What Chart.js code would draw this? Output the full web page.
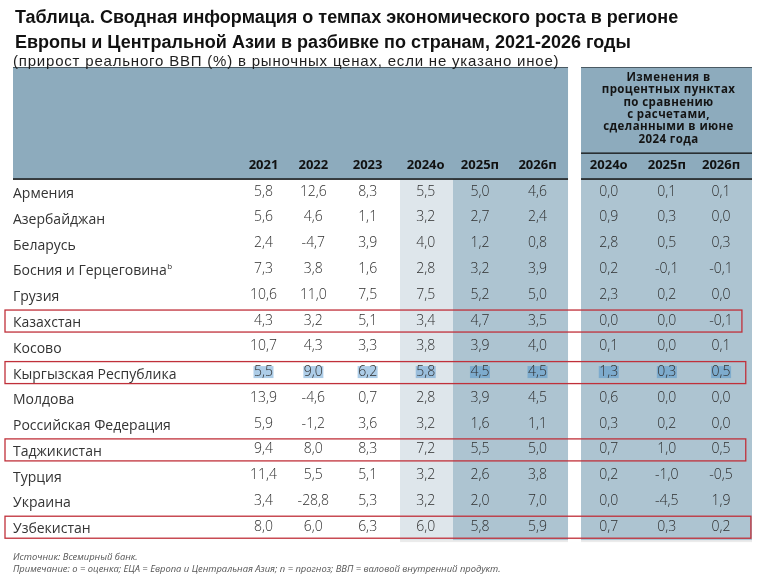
<!DOCTYPE html>
<html><head><meta charset="utf-8">
<script src="https://cdn.jsdelivr.net/npm/chart.js@4.4.1/dist/chart.umd.min.js"></script>
<style>
html,body{margin:0;padding:0;background:#fff;}
#wrap{position:relative;width:765px;height:581px;overflow:hidden;}
canvas{position:absolute;left:0;top:0;}
.t{position:absolute;white-space:nowrap;}
#title{left:15px;top:4.5px;font:bold 18px "Liberation Sans Narrow","Liberation Sans",sans-serif;line-height:25px;color:#111;}
#sub{left:13px;top:52px;font:15px "Liberation Sans",sans-serif;letter-spacing:0.8px;line-height:17px;color:#1e1e1e;}
#foot{left:13px;top:551px;font:italic 9.4px "Open Sans",sans-serif;line-height:12px;color:#555;}
</style></head>
<body><div id="wrap"><canvas id="c" width="765" height="581"></canvas>
<div class="t" id="title">Таблица. Сводная информация о темпах экономического роста в регионе<br>Европы и Центральной Азии в разбивке по странам, 2021-2026 годы</div>
<div class="t" id="sub">(прирост реального ВВП (%) в рыночных ценах, если не указано иное)</div>
<div class="t" id="foot">Источник: Всемирный банк.<br>Примечание: о = оценка; ЕЦА = Европа и Центральная Азия; п = прогноз; ВВП = валовой внутренний продукт.</div>
</div>
<script>
// ---- data ----
const countries = ['Армения','Азербайджан','Беларусь','Босния и Герцеговина','Грузия','Казахстан','Косово','Кыргызская Республика','Молдова','Российская Федерация','Таджикистан','Турция','Украина','Узбекистан'];
const footnoteMarks = {'Босния и Герцеговина':'b'};
const columnLabels = ['2021','2022','2023','2024о','2025п','2026п','2024о','2025п','2026п'];
const changeHeader = ['Изменения в','процентных пунктах','по сравнению','с расчетами,','сделанными в июне','2024 года'];
const v2021 = [5.8,5.6,2.4,7.3,10.6,4.3,10.7,5.5,13.9,5.9,9.4,11.4,3.4,8.0];
const v2022 = [12.6,4.6,-4.7,3.8,11.0,3.2,4.3,9.0,-4.6,-1.2,8.0,5.5,-28.8,6.0];
const v2023 = [8.3,1.1,3.9,1.6,7.5,5.1,3.3,6.2,0.7,3.6,8.3,5.1,5.3,6.3];
const v2024e = [5.5,3.2,4.0,2.8,7.5,3.4,3.8,5.8,2.8,3.2,7.2,3.2,3.2,6.0];
const v2025f = [5.0,2.7,1.2,3.2,5.2,4.7,3.9,4.5,3.9,1.6,5.5,2.6,2.0,5.8];
const v2026f = [4.6,2.4,0.8,3.9,5.0,3.5,4.0,4.5,4.5,1.1,5.0,3.8,7.0,5.9];
const d2024e = [0.0,0.9,2.8,0.2,2.3,0.0,0.1,1.3,0.6,0.3,0.7,0.2,0.0,0.7];
const d2025f = [0.1,0.3,0.5,-0.1,0.2,0.0,0.0,0.3,0.0,0.2,1.0,-1.0,-4.5,0.3];
const d2026f = [0.1,0.0,0.3,-0.1,0.0,-0.1,0.1,0.5,0.0,0.0,0.5,-0.5,1.9,0.2];
const columns = [v2021,v2022,v2023,v2024e,v2025f,v2026f,d2024e,d2025f,d2026f];
const boxedRows = ['Казахстан','Кыргызская Республика','Таджикистан','Узбекистан'];
const selectedRow = 'Кыргызская Республика';

// ---- layout (column units) ----
const colPos = [0,0.91,1.9,2.96,3.95,5,6.3,7.36,8.35];
const X_MIN = -4.571, X_MAX = 8.914;
const LEFT_GROUP_END = 5.557, RIGHT_GROUP_START = 5.794, LIGHT_COL = [2.491,3.458];
const HEADER_BG = '#8dabbd', DARK_BG = '#adc4d1', LIGHT_BG = '#dee6eb';
const LABEL_FONT = 'Open Sans', LABEL_SIZE = 14;

const fmt = v => v.toFixed(1).replace('.', ',');

const tablePlugin = {
  id: 'table',
  beforeDraw(chart) {
    const {ctx, chartArea: a, scales: {x}} = chart;
    const px = v => x.getPixelForValue(v);
    const hTop = 67, hBot = a.top - 2, bBot = a.bottom - 2;
    ctx.save();
    ctx.fillStyle = HEADER_BG;
    ctx.fillRect(px(X_MIN), hTop, px(LEFT_GROUP_END) - px(X_MIN), hBot - hTop);
    ctx.fillRect(px(RIGHT_GROUP_START), hTop, px(X_MAX) - px(RIGHT_GROUP_START), hBot - hTop);
    ctx.fillStyle = LIGHT_BG;
    ctx.fillRect(px(LIGHT_COL[0]), hBot, px(LIGHT_COL[1]) - px(LIGHT_COL[0]), bBot - hBot);
    ctx.fillStyle = DARK_BG;
    ctx.fillRect(px(LIGHT_COL[1]), hBot, px(LEFT_GROUP_END) - px(LIGHT_COL[1]), bBot - hBot);
    ctx.fillRect(px(RIGHT_GROUP_START), hBot, px(X_MAX) - px(RIGHT_GROUP_START), bBot - hBot);
    ctx.fillStyle = 'rgba(0,0,0,0.08)';
    ctx.fillRect(px(LIGHT_COL[0]), bBot, px(LEFT_GROUP_END) - px(LIGHT_COL[0]), 2);
    ctx.fillRect(px(RIGHT_GROUP_START), bBot, px(X_MAX) - px(RIGHT_GROUP_START), 2);
    ctx.fillStyle = '#4a5a63';
    ctx.fillRect(px(X_MIN), hTop, px(LEFT_GROUP_END) - px(X_MIN), 1);
    ctx.fillRect(px(RIGHT_GROUP_START), hTop, px(X_MAX) - px(RIGHT_GROUP_START), 1);
    ctx.fillStyle = '#111';
    ctx.fillRect(px(X_MIN), hBot - 1, px(LEFT_GROUP_END) - px(X_MIN), 1.5);
    ctx.fillRect(px(RIGHT_GROUP_START), hBot - 1, px(X_MAX) - px(RIGHT_GROUP_START), 1.5);
    ctx.fillRect(px(RIGHT_GROUP_START), 152.5, px(X_MAX) - px(RIGHT_GROUP_START), 1.3);
    ctx.font = 'bold 11.5px "Open Sans"';
    ctx.letterSpacing = '0.4px';
    ctx.textAlign = 'center';
    ctx.textBaseline = 'middle';
    ctx.fillStyle = '#141414';
    const cx = (px(RIGHT_GROUP_START) + px(X_MAX)) / 2 + 2;
    changeHeader.forEach((line, i) => ctx.fillText(line, cx, 77.5 + i * 12.4));
    ctx.restore();
  },
  afterDatasetsDraw(chart) {
    const {ctx, chartArea: a, scales: {x, y}} = chart;
    const px = v => x.getPixelForValue(v);
    ctx.save();
    ctx.font = '300 14px "Open Sans"';
    ctx.textAlign = 'center';
    ctx.textBaseline = 'middle';
    chart.data.datasets.forEach((ds, j) => {
      const meta = chart.getDatasetMeta(j);
      meta.data.forEach((pt, i) => {
        const txt = fmt(ds.data[i].v);
        const ty = pt.y - 2.5;
        if (ds.data[i].y === selectedRow) {
          const w = ctx.measureText(txt).width + 1;
          ctx.fillStyle = 'rgba(60,135,200,0.42)';
          ctx.fillRect(pt.x - w / 2, ty - 6, w, 12);
        }
        ctx.fillStyle = '#2e2e2e';
        ctx.fillText(txt, pt.x, ty);
      });
    });
    ctx.textAlign = 'left';
    Object.keys(footnoteMarks).forEach(name => {
      ctx.font = LABEL_SIZE + 'px "' + LABEL_FONT + '"';
      const w = ctx.measureText(name).width;
      const yy = y.getPixelForValue(countries.indexOf(name));
      ctx.font = '8px "Open Sans"';
      ctx.fillStyle = '#333';
      ctx.fillText(footnoteMarks[name], a.left + w + 0.5, yy - 5);
    });
    ctx.strokeStyle = '#c0303a';
    ctx.lineWidth = 1.3;
    const rights = {'Казахстан': 8.73, 'Кыргызская Республика': 8.8, 'Таджикистан': 8.8, 'Узбекистан': X_MAX - 0.02};
    boxedRows.forEach(name => {
      const yy = y.getPixelForValue(countries.indexOf(name)) - 2;
      const l = a.left - 8;
      const r = px(rights[name]);
      ctx.strokeRect(l, yy - 11, r - l, 22);
    });
    ctx.restore();
  }
};

const datasets = columns.map((col, j) => ({
  label: columnLabels[j],
  data: col.map((v, i) => ({x: colPos[j], y: countries[i], v})),
  pointRadius: 0,
  pointHoverRadius: 0
}));

new Chart(document.getElementById('c'), {
  type: 'scatter',
  data: {datasets},
  options: {
    responsive: false,
    animation: false,
    events: [],
    layout: {padding: {left: 13, right: 13, top: 157.3, bottom: 38.9}},
    plugins: {legend: {display: false}, tooltip: {enabled: false}},
    scales: {
      x: {
        type: 'linear', position: 'top', min: X_MIN, max: X_MAX,
        grid: {display: false, drawTicks: false}, border: {display: false},
        afterBuildTicks: s => { s.ticks = colPos.map(v => ({value: v})); },
        afterFit: s => { s.height = 24; },
        ticks: {autoSkip: false, maxRotation: 0, padding: 8, color: '#111',
          font: {family: 'Open Sans', weight: 'bold', size: 13},
          callback: (v, i) => columnLabels[i]}
      },
      y: {
        type: 'category', labels: countries, offset: true,
        grid: {display: false, drawTicks: false}, border: {display: false},
        afterFit: s => { s.width = 0; },
        ticks: {mirror: true, padding: 0, color: '#333', font: {family: LABEL_FONT, size: LABEL_SIZE}}
      }
    }
  },
  plugins: [tablePlugin]
});
</script>
</body></html>
